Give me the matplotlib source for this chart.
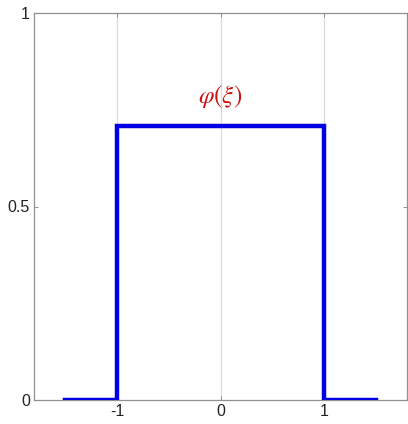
import matplotlib
matplotlib.use("Agg")
import matplotlib.pyplot as plt

# data
xi = [-1.5, -1.0, -1.0, 1.0, 1.0, 1.5]
phi = [0.0, 0.0, 0.7071, 0.7071, 0.0, 0.0]
xticks = [-1, 0, 1]
xtick_labels = ["-1", "0", "1"]
yticks = [0, 0.5, 1]
ytick_labels = ["0", "0.5", "1"]
label_text = r"$\varphi(\xi)$"
label_pos = (0.0, 0.785)

plt.rcParams["font.family"] = ["Liberation Sans", "DejaVu Sans"]
plt.rcParams["mathtext.fontset"] = "stix"

fig = plt.figure(figsize=(4.08, 4.24), dpi=100)
ax = fig.add_axes([34 / 408, 24 / 424, 373 / 408, 387 / 424])

ax.plot(xi, phi, color="#0000e6", lw=3.2, solid_joinstyle="miter", zorder=3)
ax.set_xlim(-1.8, 1.8)
ax.set_ylim(0, 1)
ax.set_xticks(xticks)
ax.set_xticklabels(xtick_labels)
ax.set_yticks(yticks)
ax.set_yticklabels(ytick_labels)
ax.xaxis.grid(True, color="#d8d8d8", lw=0.8)
ax.yaxis.grid(False)
ax.tick_params(direction="in", length=3, width=0.6, color="#808080",
               labelsize=11.5, labelcolor="#222222", top=True, right=True,
               labeltop=False, labelright=False, pad=3)
for s in ax.spines.values():
    s.set_color("#909090")
    s.set_linewidth(0.9)

ax.text(label_pos[0], label_pos[1], label_text, color="#cc1111",
        fontsize=18, ha="center", va="center")

fig.savefig("out.png", dpi=100)
